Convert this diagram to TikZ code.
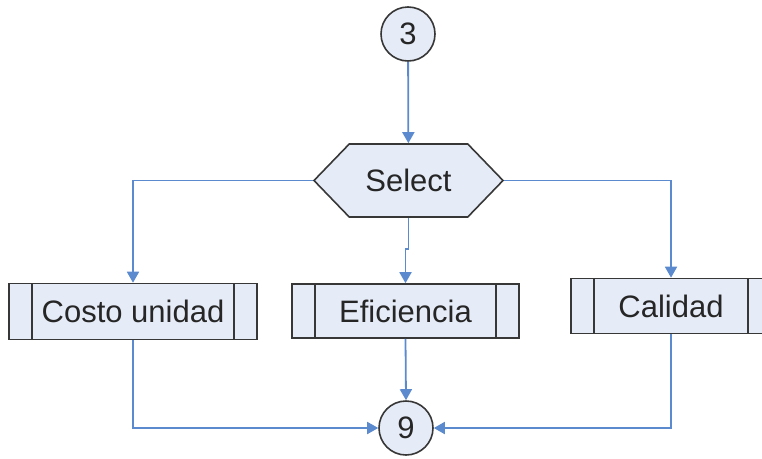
\documentclass[tikz,border=0pt]{standalone}
\usepackage{fontspec}
\setmainfont{Liberation Sans}
\usetikzlibrary{arrows.meta,shapes.symbols}
\definecolor{linkblue}{RGB}{92,138,206}
\definecolor{boxfill}{RGB}{230,236,247}
\definecolor{boxline}{RGB}{55,55,55}
\begin{document}
\begin{tikzpicture}[x=1pt,y=-1pt,
    every node/.style={font=\fontsize{31}{36}\selectfont,text=black!85},
    conn/.style={circle,draw=boxline,fill=boxfill,line width=1.6pt,minimum size=54pt,inner sep=0pt},
    choice/.style={signal,signal to=west and east,signal pointer angle=92,draw=boxline,fill=boxfill,line width=1.6pt,minimum width=189pt,minimum height=73pt,inner sep=0pt},
    subproc/.style={rectangle,draw=boxline,fill=boxfill,line width=1.6pt,minimum height=56pt,inner sep=0pt,
      path picture={\draw[boxline,line width=1.6pt]
        ([xshift=23pt]path picture bounding box.north west) -- ([xshift=23pt]path picture bounding box.south west)
        ([xshift=-23pt]path picture bounding box.north east) -- ([xshift=-23pt]path picture bounding box.south east);}},
    link/.style={draw=linkblue,line width=1.8pt,-{Triangle[length=11pt,width=12pt]}}]
        \clip (0,0) rectangle (762,458);
        \useasboundingbox (0,0) rectangle (762,458);
        \draw (408,34) node[conn](three){3};
        \draw (408.5,180.5) node[choice](sel){Select};
        \draw (133,311.5) node[subproc,minimum width=248pt](cost){Costo unidad};
        \draw (405.5,311) node[subproc,minimum width=227pt,minimum height=54pt](eff){Eficiencia};
        \draw (671,306) node[subproc,minimum width=200pt,minimum height=55pt](qual){Calidad};
        \draw (406,428) node[conn](nine){9};
        \draw[link] (three) -- (sel);
        \draw[link] (sel.west) -| (cost.north);
        \draw[link] (sel.east) -| (qual.north);
        \draw[link] (sel.south) -- ++(0,31) -| (eff.north);
        \draw[link] (eff.south) -- (nine.north);
        \draw[link] (cost.south) |- (nine.west);
        \draw[link] (qual.south) |- (nine.east);
      \end{tikzpicture}
\end{document}
